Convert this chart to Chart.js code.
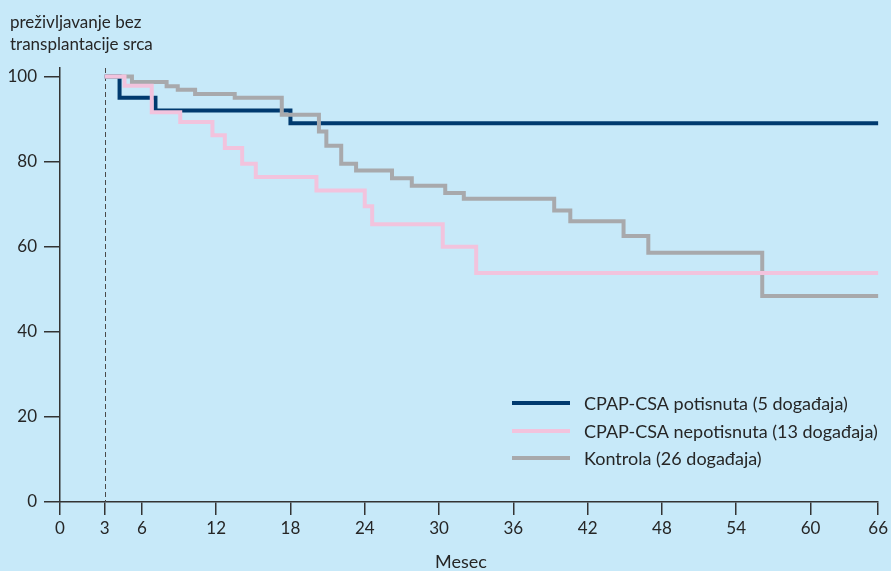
<!DOCTYPE html>
<html>
<head>
<meta charset="utf-8">
<script src="https://cdn.jsdelivr.net/npm/chart.js@4.4.1/dist/chart.umd.min.js"></script>
<style>
  html, body { margin: 0; padding: 0; background: #c7e9f9; }
  #wrap { width: 891px; height: 571px; position: relative; }
</style>
</head>
<body>
<div id="wrap"><canvas id="c" width="891" height="571"></canvas></div>
<script>
// ---- data (months, survival %) ----
const seriesLabels = [
  'CPAP-CSA potisnuta (5 događaja)',
  'CPAP-CSA nepotisnuta (13 događaja)',
  'Kontrola (26 događaja)'
];
const potisnutaX = [3, 4.2, 7.1, 18.0, 66];
const potisnutaY = [100, 95, 92, 89, 89];
const nepotisnutaX = [3, 4.6, 6.8, 9.1, 11.7, 12.7, 14.1, 15.2, 20.1, 24.0, 24.6, 30.3, 33.0, 66];
const nepotisnutaY = [100, 97.8, 91.6, 89.3, 86.2, 83.2, 79.5, 76.4, 73.2, 69.5, 65.3, 60.0, 53.8, 53.8];
const kontrolaX = [3, 5.2, 8.0, 8.9, 10.3, 13.5, 17.3, 20.3, 20.9, 22.1, 23.3, 26.2, 27.8, 30.5, 32.0, 39.3, 40.6, 44.9, 46.9, 56.1, 66];
const kontrolaY = [100, 98.7, 97.7, 96.9, 95.9, 95.0, 91.0, 87.1, 83.7, 79.5, 77.9, 76.1, 74.3, 72.6, 71.3, 68.5, 66.0, 62.5, 58.6, 48.4, 48.4];
const xTickValues = [0, 3, 6, 12, 18, 24, 30, 36, 42, 48, 54, 60, 66];
const xTickLabels = ['0', '3', '6', '12', '18', '24', '30', '36', '42', '48', '54', '60', '66'];
const yTickValues = [0, 20, 40, 60, 80, 100];
const titleLines = ['preživljavanje bez', 'transplantacije srca'];
const xTitle = 'Mesec';
const startMonth = 3;

const colors = ['#003a6f', '#f2c3dd', '#a8a9ac'];
const FONT = 'Lato, "Open Sans", sans-serif';
const TEXT = '#262626';
const AXIS = '#333333';

function pts(xs, ys) { return xs.map((x, i) => ({ x: x, y: ys[i] })); }

const decor = {
  id: 'decor',
  beforeDraw(chart) {
    const ctx = chart.ctx;
    ctx.save();
    ctx.fillStyle = '#c7e9f9';
    ctx.fillRect(0, 0, chart.width, chart.height);
    ctx.restore();
  },
  beforeDatasetsDraw(chart) {
    const ctx = chart.ctx, a = chart.chartArea;
    const x = Math.round(chart.scales.x.getPixelForValue(startMonth)) + 0.5;
    ctx.save();
    ctx.strokeStyle = '#4a4a4a';
    ctx.lineWidth = 1;
    ctx.setLineDash([5, 3]);
    ctx.beginPath();
    ctx.moveTo(x, a.top);
    ctx.lineTo(x, a.bottom);
    ctx.stroke();
    ctx.restore();
  },
  afterDraw(chart) {
    const ctx = chart.ctx;
    ctx.save();
    ctx.fillStyle = TEXT;
    ctx.font = '17px ' + FONT;
    ctx.textBaseline = 'alphabetic';
    ctx.textAlign = 'left';
    ctx.fillText(titleLines[0], 10, 28);
    ctx.fillText(titleLines[1], 10, 50);
    // x axis title
    ctx.font = '18px ' + FONT;
    ctx.textAlign = 'center';
    ctx.fillText(xTitle, 461, 568);
    // legend
    ctx.textAlign = 'left';
    const ys = [403, 431, 458];
    chart.data.datasets.forEach((ds, i) => {
      ctx.strokeStyle = ds.borderColor;
      ctx.lineWidth = 4;
      ctx.beginPath();
      ctx.moveTo(512, ys[i]);
      ctx.lineTo(570, ys[i]);
      ctx.stroke();
      ctx.fillStyle = TEXT;
      ctx.font = '18px ' + FONT;
      ctx.textBaseline = 'middle';
      ctx.fillText(ds.label, 584, ys[i] + 1);
    });
    ctx.restore();
  }
};

new Chart(document.getElementById('c'), {
  type: 'line',
  data: {
    datasets: [
      { label: seriesLabels[0], data: pts(potisnutaX, potisnutaY), borderColor: colors[0], order: 3 },
      { label: seriesLabels[1], data: pts(nepotisnutaX, nepotisnutaY), borderColor: colors[1], order: 1 },
      { label: seriesLabels[2], data: pts(kontrolaX, kontrolaY), borderColor: colors[2], order: 2 }
    ]
  },
  options: {
    responsive: false,
    animation: false,
    devicePixelRatio: 1,
    layout: { padding: { top: 68, right: 11, left: 0, bottom: 0 } },
    datasets: {
      line: {
        stepped: 'before',
        fill: false,
        borderWidth: 4,
        pointRadius: 0,
        pointHoverRadius: 0,
        borderCapStyle: 'butt',
        borderJoinStyle: 'miter',
        tension: 0
      }
    },
    plugins: { legend: { display: false }, tooltip: { enabled: false }, title: { display: false } },
    scales: {
      x: {
        type: 'linear',
        min: -0.61,
        max: 65.46,
        afterFit(s) { s.height = 69; },
        afterBuildTicks(s) {
          const last = xTickValues.length - 1;
          // the original axis pins its first and last tick to the axis ends
          s.ticks = xTickValues.map((v, i) => ({ value: i === 0 ? s.min : (i === last ? s.max : v) }));
        },
        ticks: {
          autoSkip: false, maxRotation: 0, padding: 3,
          color: TEXT, font: { family: FONT, size: 17 },
          callback: (v, i) => xTickLabels[i]
        },
        grid: { display: true, drawOnChartArea: false, drawTicks: true, tickLength: 13, color: AXIS, lineWidth: 1.5 },
        border: { display: true, color: AXIS, width: 1.5 },
        title: { display: false }
      },
      y: {
        type: 'linear',
        min: 0,
        max: 102,
        afterFit(s) { s.width = 60; },
        afterBuildTicks(s) { s.ticks = yTickValues.map(v => ({ value: v })); },
        ticks: {
          autoSkip: false, padding: 7,
          color: TEXT, font: { family: FONT, size: 17 }
        },
        grid: { display: true, drawOnChartArea: false, drawTicks: true, tickLength: 16, color: AXIS, lineWidth: 1.5 },
        border: { display: true, color: AXIS, width: 1.5 }
      }
    }
  },
  plugins: [decor]
});
</script>
</body>
</html>
